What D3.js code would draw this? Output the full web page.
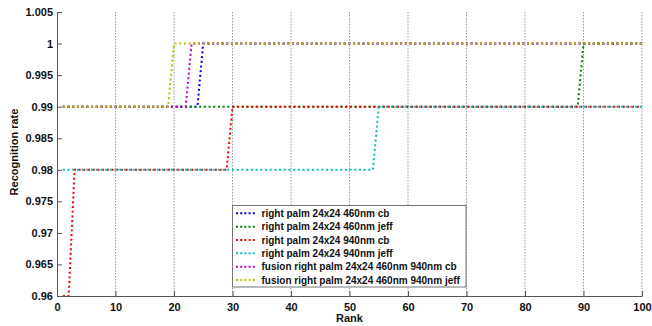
<!DOCTYPE html>
<html><head><meta charset="utf-8">
<script src="https://cdn.jsdelivr.net/npm/d3@7/dist/d3.min.js"></script>
<style>body{margin:0;background:#fff}svg{display:block}</style>
</head><body><svg id="c" width="652" height="326"></svg>
<script>
// Data: each series is a polyline through its step points (rank, rate)
const seriesNames = [
  "right palm 24x24 460nm cb",
  "right palm 24x24 460nm jeff",
  "right palm 24x24 940nm cb",
  "right palm 24x24 940nm jeff",
  "fusion right palm 24x24 460nm 940nm cb",
  "fusion right palm 24x24 460nm 940nm jeff"
];
const seriesColors = ["#0000ff", "#008000", "#ff0000", "#00bfbf", "#bf00bf", "#bfbf00"];
const blueRanks = [1, 24, 25, 100];
const blueRates = [0.99, 0.99, 1, 1];
const greenRanks = [1, 89, 90, 100];
const greenRates = [0.99, 0.99, 1, 1];
const redRanks = [1, 2, 3, 29, 30, 100];
const redRates = [0.96, 0.96, 0.98, 0.98, 0.99, 0.99];
const cyanRanks = [1, 54, 55, 100];
const cyanRates = [0.98, 0.98, 0.99, 0.99];
const magentaRanks = [1, 22, 23, 100];
const magentaRates = [0.99, 0.99, 1, 1];
const yellowRanks = [1, 19, 20, 100];
const yellowRates = [0.99, 0.99, 1, 1];
const xTicks = [0, 10, 20, 30, 40, 50, 60, 70, 80, 90, 100];
const yTicks = [0.96, 0.965, 0.97, 0.975, 0.98, 0.985, 0.99, 0.995, 1, 1.005];

const allRanks = [blueRanks, greenRanks, redRanks, cyanRanks, magentaRanks, yellowRanks];
const allRates = [blueRates, greenRates, redRates, cyanRates, magentaRates, yellowRates];

const svg = d3.select("#c");
const L = 57, R = 642, T = 12, B = 296;
const x = d3.scaleLinear().domain([0, 100]).range([L, R]);
const y = d3.scaleLinear().domain([0.96, 1.005]).range([B, T]);
const font = "'Liberation Sans', Arial, sans-serif";

// vertical grid
svg.append("g").selectAll("line").data(xTicks.filter(d => d > 0)).join("line")
  .attr("x1", d => x(d)).attr("x2", d => x(d)).attr("y1", T).attr("y2", B)
  .attr("stroke", "#9a9a9a").attr("stroke-width", 1).attr("stroke-dasharray", "1.5,1.5");

// series
const line = d3.line().x(d => x(d[0])).y(d => y(d[1]));
allRanks.forEach((rk, i) => {
  const pts = rk.map((r, j) => [r, allRates[i][j]]);
  svg.append("path").datum(pts).attr("d", line)
    .attr("fill", "none").attr("stroke", seriesColors[i]).attr("stroke-width", 2)
    .attr("stroke-dasharray", "2,2.7");
});

// axes
const axisColor = "#555";
const xAxis = d3.axisBottom(x).tickValues(xTicks).tickSizeInner(-5).tickSizeOuter(0).tickPadding(7).tickFormat(d3.format("d"));
const gx = svg.append("g").attr("transform", `translate(0,${B})`).call(xAxis);
const yAxis = d3.axisLeft(y).tickValues(yTicks).tickSizeInner(-5).tickSizeOuter(0).tickPadding(4).tickFormat(d => String(+d.toFixed(3)));
const gy = svg.append("g").attr("transform", `translate(${L},0)`).call(yAxis);
[gx, gy].forEach(g => {
  g.select(".domain").attr("stroke", axisColor).attr("stroke-width", 1);
  g.selectAll(".tick line").attr("stroke", axisColor);
  g.selectAll(".tick text").attr("fill", "#111").style("font-family", font)
    .style("font-size", "11px").style("font-weight", "bold");
});

// axis labels
svg.append("text").attr("x", x(50)).attr("y", 322).attr("text-anchor", "middle")
  .style("font-family", font).style("font-size", "11px").style("font-weight", "bold").attr("fill", "#111").text("Rank");
svg.append("text").attr("transform", `translate(18,152) rotate(-90)`).attr("text-anchor", "middle")
  .style("font-family", font).style("font-size", "11px").style("font-weight", "bold").attr("fill", "#111").text("Recognition rate");

// legend
const lg = svg.append("g");
lg.append("rect").attr("x", 232.5).attr("y", 205.5).attr("width", 233.5).attr("height", 81.5)
  .attr("fill", "#fff").attr("stroke", "#777").attr("stroke-width", 1);
seriesNames.forEach((n, i) => {
  const cy = 213.3 + i * 13.35;
  lg.append("line").attr("x1", 236).attr("x2", 257).attr("y1", cy).attr("y2", cy)
    .attr("stroke", seriesColors[i]).attr("stroke-width", 2).attr("stroke-dasharray", "2,2.2");
  lg.append("text").attr("x", 261.5).attr("y", cy + 3.6)
    .style("font-family", font).style("font-size", "10px").style("font-weight", "bold").attr("fill", "#111").text(n);
});
</script></body></html>
